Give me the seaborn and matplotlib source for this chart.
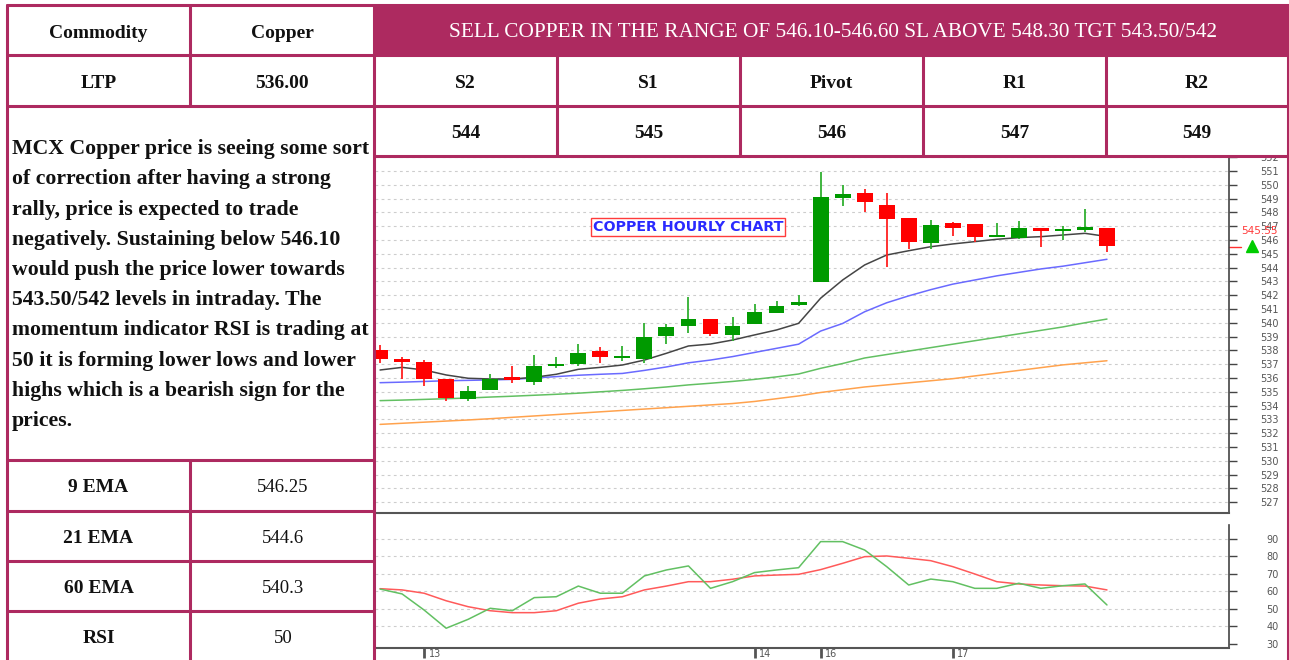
import numpy as np
import pandas as pd
import matplotlib
matplotlib.use("Agg")
import matplotlib.pyplot as plt
import matplotlib.transforms as mtransforms
from matplotlib.lines import Line2D
from matplotlib.patches import Rectangle
import seaborn as sns

# ---- hourly candles ----
opens = [538.00, 537.38, 537.18, 535.93, 534.48, 535.13, 536.10, 535.73, 536.90, 537.00,
         537.96, 537.45, 537.35, 539.04, 539.77, 540.28, 539.12, 539.89, 540.73, 541.29,
         542.98, 549.02, 549.38, 548.54, 547.57, 545.80, 547.21, 547.14, 546.20, 546.17,
         546.85, 546.65, 546.72, 546.85]
highs = [538.40, 537.55, 537.30, 535.95, 535.42, 536.29, 536.87, 537.67, 537.50, 538.46,
         538.27, 538.34, 539.96, 539.91, 541.85, 540.30, 540.40, 541.36, 541.60, 542.00,
         550.95, 549.99, 549.67, 549.38, 547.60, 547.45, 547.33, 547.15, 547.21, 547.38,
         546.87, 547.04, 548.25, 546.90]
lows = [537.10, 535.90, 535.42, 534.36, 534.36, 535.10, 535.62, 535.50, 536.70, 536.87,
        537.11, 537.25, 537.11, 538.46, 539.28, 539.04, 538.70, 539.89, 540.70, 541.25,
        542.98, 548.49, 548.05, 544.02, 545.33, 545.33, 546.29, 545.83, 546.20, 546.10,
        545.51, 546.00, 546.60, 545.15]
closes = [537.35, 537.18, 535.90, 534.53, 535.08, 535.90, 535.86, 536.87, 537.00, 537.83,
          537.50, 537.50, 538.95, 539.72, 540.25, 539.19, 539.79, 540.80, 541.24, 541.51,
          549.10, 549.31, 548.75, 547.50, 545.88, 547.09, 546.85, 546.24, 546.25, 546.85,
          546.65, 546.78, 546.92, 545.55]

# moving averages
ema9 = [536.58, 536.77, 536.58, 536.22, 535.98, 535.93, 535.93, 536.05, 536.27, 536.63,
        536.77, 536.94, 537.30, 537.79, 538.32, 538.46, 538.75, 539.12, 539.48, 539.96,
        541.78, 543.10, 544.19, 544.91, 545.22, 545.51, 545.71, 545.88, 546.05, 546.17,
        546.24, 546.36, 546.48, 546.25]
ema21 = [535.66, 535.70, 535.75, 535.80, 535.83, 535.86, 535.90, 536.00, 536.10, 536.20,
         536.27, 536.33, 536.55, 536.80, 537.10, 537.30, 537.55, 537.85, 538.15, 538.45,
         539.40, 539.95, 540.80, 541.45, 541.95, 542.40, 542.80, 543.10, 543.40, 543.65,
         543.90, 544.10, 544.35, 544.60]
ema60 = [534.36, 534.40, 534.45, 534.50, 534.55, 534.62, 534.68, 534.75, 534.82, 534.90,
         535.00, 535.10, 535.22, 535.35, 535.50, 535.62, 535.75, 535.90, 536.08, 536.29,
         536.70, 537.05, 537.45, 537.70, 537.95, 538.20, 538.45, 538.70, 538.95, 539.20,
         539.45, 539.70, 540.00, 540.27]
ema100 = [532.64, 532.72, 532.80, 532.88, 532.96, 533.05, 533.15, 533.25, 533.35, 533.45,
          533.55, 533.65, 533.75, 533.85, 533.95, 534.05, 534.15, 534.30, 534.50, 534.70,
          534.95, 535.15, 535.35, 535.50, 535.65, 535.80, 535.95, 536.15, 536.35, 536.55,
          536.75, 536.95, 537.10, 537.25]

# RSI and its average
rsi = [61.4, 58.6, 49.4, 39.0, 44.1, 50.4, 49.0, 56.5, 57.0, 63.1,
       59.0, 59.0, 68.9, 72.3, 74.6, 61.8, 65.6, 70.8, 72.3, 73.6,
       88.5, 88.5, 83.7, 74.2, 63.7, 67.1, 65.6, 61.8, 61.8, 64.7,
       61.8, 63.3, 64.3, 52.3]
rsi_avg = [61.6, 60.9, 59.0, 54.7, 51.3, 49.0, 47.9, 47.9, 49.0, 53.3,
           55.7, 57.0, 60.9, 63.1, 65.6, 65.6, 67.0, 68.9, 69.4, 69.8,
           72.5, 76.1, 79.9, 80.3, 79.0, 77.6, 74.2, 70.0, 65.6, 64.3,
           63.7, 63.3, 63.1, 60.9]

date_pos = [2, 17, 20, 26]
date_labels = ["13", "14", "16", "17"]
last_price = 545.55
price_ticks = list(range(527, 553))
rsi_ticks = [30, 40, 50, 60, 70, 80, 90]

# ---- table text ----
header_left = ["Commodity", "Copper"]
header_call = "SELL COPPER IN THE RANGE OF 546.10-546.60 SL ABOVE 548.30 TGT 543.50/542"
ltp_row = ["LTP", "536.00"]
level_names = ["S2", "S1", "Pivot", "R1", "R2"]
level_values = ["544", "545", "546", "547", "549"]
comment_lines = [
    "MCX Copper price is seeing some sort",
    "of correction after having a strong",
    "rally, price is expected to trade",
    "negatively. Sustaining below 546.10",
    "would push the price lower towards",
    "543.50/542 levels in intraday. The",
    "momentum indicator RSI is trading at",
    "50 it is forming lower lows and lower",
    "highs which is a bearish sign for the",
    "prices.",
]
ind_names = ["9 EMA", "21 EMA", "60 EMA", "RSI"]
ind_values = ["546.25", "544.6", "540.3", "50"]

W, H = 1289, 660
PINK = "#ad2a60"
SERIF = ["Liberation Serif", "DejaVu Serif"]

sns.set_style("white")
plt.rcParams["font.family"] = ["DejaVu Sans"]

fig = plt.figure(figsize=(W / 100, H / 100), dpi=100)


def fx(x):
    return x / W


def fy(y):
    return 1 - y / H


def axes_px(x0, y0, x1, y1):
    return fig.add_axes([fx(x0), fy(y1), (x1 - x0) / W, (y1 - y0) / H])


ax_p = axes_px(375, 157, 1229, 513)
ax_r = axes_px(375, 525, 1229, 648)

df = pd.DataFrame({"i": np.arange(len(opens)), "open": opens, "high": highs,
                   "low": lows, "close": closes, "ema9": ema9, "ema21": ema21,
                   "ema60": ema60, "ema100": ema100, "rsi": rsi, "rsi_avg": rsi_avg})

# moving averages
for col, c in [("ema100", "#ffa24d"), ("ema60", "#62c062"),
               ("ema21", "#6a6aff"), ("ema9", "#454545")]:
    sns.lineplot(data=df, x="i", y=col, ax=ax_p, color=c, lw=1.1, zorder=2)

# candles
up = df["close"] >= df["open"]
body_col = np.where(up, "#009a00", "#ff0000")
wick_col = np.where(up, "#30b030", "#ff2020")
ax_p.vlines(df["i"], df["low"], df["high"], colors=wick_col, lw=1.3, zorder=3)
heights = np.maximum((df["close"] - df["open"]).abs(), 0.13)
ax_p.bar(df["i"], heights, bottom=np.minimum(df["open"], df["close"]),
         width=0.72, color=body_col, lw=0, zorder=4)

# RSI panel
sns.lineplot(data=df, x="i", y="rsi_avg", ax=ax_r, color="#ff5a5a", lw=1.1)
sns.lineplot(data=df, x="i", y="rsi", ax=ax_r, color="#62c062", lw=1.1)

ax_p.set_xlim(-0.23, 38.54)
ax_r.set_xlim(-0.23, 38.54)
ax_p.set_ylim(526.22, 552.01)
ax_r.set_ylim(27.7, 98)

for ax, ticks in [(ax_p, price_ticks), (ax_r, rsi_ticks)]:
    ax.set_xlabel("")
    ax.set_ylabel("")
    ax.yaxis.tick_right()
    ax.set_yticks(ticks)
    ax.tick_params(axis="y", right=True, left=False, length=6, width=1, color="#444",
                   labelsize=7, labelcolor="#555", pad=30)
    plt.setp(ax.get_yticklabels(), ha="right")
    ax.grid(axis="y", color="#cdcdcd", ls=(0, (2.5, 3)), lw=0.8)
    ax.grid(axis="x", visible=False)
    for s in ["top", "left"]:
        ax.spines[s].set_visible(False)
    ax.spines["right"].set_color("#444")
    ax.spines["right"].set_linewidth(1.2)
    ax.spines["bottom"].set_color("#555")
    ax.spines["bottom"].set_linewidth(1.5)
    ax.set_facecolor("white")

ax_r.get_ygridlines()[0].set_visible(False)
ax_p.set_xticks([])
ax_r.set_xticks(date_pos)
ax_r.tick_params(axis="x", bottom=True, length=7, width=2, color="#555", labelbottom=False)
trans_r = mtransforms.blended_transform_factory(ax_r.transData, ax_r.transAxes)
for p, lbl in zip(date_pos, date_labels):
    ax_r.text(p + 0.2, -0.045, lbl, transform=trans_r, fontsize=7, color="#555",
              ha="left", va="center")

ax_p.text(13.98, 546.94, "COPPER HOURLY CHART", color="#2a2aff", fontsize=10.3,
          fontweight="bold", ha="center", va="center", zorder=6,
          bbox=dict(boxstyle="square,pad=0.12", fc="white", ec="#ff3b3b", lw=1.0))

# last price marker on the right axis
trans_p = mtransforms.blended_transform_factory(ax_p.transAxes, ax_p.transData)
ax_p.plot([1.0, 1.014], [last_price - 0.05] * 2, color="#ff3030", lw=1,
          transform=trans_p, clip_on=False)
ax_p.plot([1.027], [last_price], marker="^", color="#00cc00", ms=9,
          transform=trans_p, clip_on=False)
ax_p.text(1.014, last_price + 1.1, f"{last_price:.2f}", color="#ff3b3b", fontsize=7.6,
          transform=trans_p, ha="left", va="center", clip_on=False)

# ---- table ----
fig.patches.append(Rectangle((fx(374), fy(156)), (1289 - 374) / W, 156 / H,
                             transform=fig.transFigure, fc="white", ec="none", zorder=0.5))
fig.patches.append(Rectangle((fx(374), fy(55)), (1288 - 374) / W, 50 / H,
                             transform=fig.transFigure, fc=PINK, ec="none", zorder=1))


def hline(y, x0, x1):
    fig.add_artist(Line2D([fx(x0), fx(x1)], [fy(y), fy(y)], transform=fig.transFigure,
                          color=PINK, lw=2.2, zorder=5))


def vline(x, y0, y1):
    fig.add_artist(Line2D([fx(x), fx(x)], [fy(y0), fy(y1)], transform=fig.transFigure,
                          color=PINK, lw=2.2, zorder=5))


for y in [5, 55, 106]:
    hline(y, 7, 1288)
hline(156, 374, 1288)
for y in [460, 511, 561, 611]:
    hline(y, 7, 374)
for x in [7, 374, 1288]:
    vline(x, 5, 660)
vline(190, 5, 106)
vline(190, 460, 660)
cols = [374, 557, 740, 923, 1106, 1288]
for x in cols[1:-1]:
    vline(x, 55, 156)


def cell_text(x, y, s, size=14, bold=True, color="#111111"):
    fig.text(fx(x), fy(y), s, ha="center", va="center", fontsize=size, color=color,
             fontweight="bold" if bold else "normal", family=SERIF, zorder=6)


cell_text(98.5, 33, header_left[0])
cell_text(282, 33, header_left[1])
cell_text(833, 32.5, header_call, size=15.3, bold=False, color="white")
cell_text(98.5, 84, ltp_row[0])
cell_text(282, 84, ltp_row[1])
for k in range(5):
    xc = (cols[k] + cols[k + 1]) / 2
    cell_text(xc, 84, level_names[k])
    cell_text(xc, 134, level_values[k])

for k, line in enumerate(comment_lines):
    fig.text(fx(12), fy(149 + 30.25 * k), line, ha="left", va="center", fontsize=15.7,
             fontweight="bold", family=SERIF, color="#111111", zorder=6)

for k in range(4):
    yc = 488 + 50.3 * k
    cell_text(98.5, yc, ind_names[k])
    cell_text(283, yc, ind_values[k], size=13.5, bold=False)

fig.savefig("out.png", dpi=100)
